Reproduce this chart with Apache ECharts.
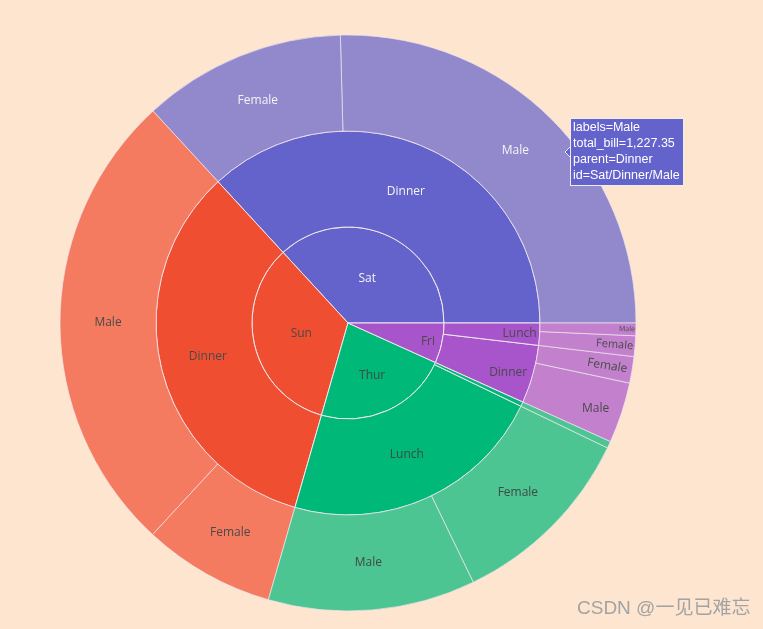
<!DOCTYPE html>
<html>
<head>
<meta charset="utf-8">
<script src="https://cdn.jsdelivr.net/npm/echarts@6/dist/echarts.min.js"></script>
<style>
html,body{margin:0;padding:0;background:#FDE5D0;}
#chart{width:763px;height:629px;}
</style>
</head>
<body>
<div id="chart"></div>
<script>
// ---- data (tips: total_bill by day / time / sex) ----
const days = ['Sat', 'Sun', 'Thur', 'Fri'];
const leafDay  = ['Sat','Sat','Sun','Sun','Thur','Thur','Thur','Fri','Fri','Fri','Fri'];
const leafTime = ['Dinner','Dinner','Dinner','Dinner','Lunch','Lunch','Dinner','Dinner','Dinner','Lunch','Lunch'];
const leafSex  = ['Male','Female','Male','Female','Male','Female','Female','Male','Female','Female','Male'];
const leafBill = [1227.35, 551.05, 1269.46, 357.70, 561.44, 516.11, 18.78, 164.41, 71.55, 55.76, 34.16];
const hoverId = 'Sat/Dinner/Male';

// ---- styles ----
const dayColors = { Sat: '#6363CB', Sun: '#EF4F30', Thur: '#00B878', Fri: '#A855CC' };
const dayLabelColor = { Sat: '#f4f4f4', Sun: '#4a4a4a', Thur: '#3f4a44', Fri: '#4a4a4a' };
// per-node label tweaks (style only)
const labelTweak = {
  'Thur': { verticalAlign: 'top', padding: [3, 0, 0, 8] },
  'Fri': { align: 'right', distance: 7 },
  'Fri/Lunch': { align: 'right', distance: 3 },
  'Fri/Dinner': { align: 'right', distance: 6 },
  'Thur/Dinner': { show: false },
  'Thur/Dinner/Female': { show: false },
  'Fri/Dinner/Male': { align: 'right', distance: 13 },
  'Fri/Dinner/Female': { align: 'right', distance: 5, rotate: 'radial' },
  'Fri/Lunch/Female': { align: 'right', distance: 2, rotate: 'radial', fontSize: 11 },
  'Fri/Lunch/Male': { align: 'right', distance: 1, rotate: 'radial', fontSize: 7 }
};

function lab(id, day) {
  return Object.assign({ color: dayLabelColor[day] }, labelTweak[id] || {});
}

// build tree
const tree = [];
days.forEach(d => {
  tree.push({ name: d, itemStyle: { color: dayColors[d] }, label: lab(d, d), children: [] });
});
for (let i = 0; i < leafBill.length; i++) {
  const d = leafDay[i], t = leafTime[i], s = leafSex[i];
  const dayNode = tree.find(n => n.name === d);
  let timeNode = dayNode.children.find(n => n.name === t);
  if (!timeNode) {
    timeNode = { name: t, itemStyle: { color: dayColors[d] }, label: lab(d + '/' + t, d), children: [] };
    dayNode.children.push(timeNode);
  }
  timeNode.children.push({
    name: s, value: leafBill[i],
    itemStyle: { color: dayColors[d], opacity: 0.7 },
    label: lab(d + '/' + t + '/' + s, d)
  });
}

// hover label text
const hi = leafDay.findIndex((d, i) => d + '/' + leafTime[i] + '/' + leafSex[i] === hoverId);
const hoverText = 'labels=' + leafSex[hi] + '\ntotal_bill=' +
  leafBill[hi].toLocaleString('en-US', { minimumFractionDigits: 2 }) +
  '\nparent=' + leafTime[hi] + '\nid=' + hoverId;

const chart = echarts.init(document.getElementById('chart'));
chart.setOption({
  backgroundColor: '#FDE5D0',
  animation: false,
  series: [{
    type: 'sunburst',
    center: [348, 323],
    radius: [0, 288],
    startAngle: 0,
    clockwise: false,
    sort: null,
    nodeClick: false,
    emphasis: { disabled: true },
    data: tree,
    itemStyle: { borderColor: '#f1e6ee', borderWidth: 1 },
    label: { rotate: 0, fontSize: 12, fontFamily: 'Open Sans', color: '#4a4a4a' },
    levels: [
      {},
      { r0: 0, r: 96 },
      { r0: 96, r: 192 },
      { r0: 192, r: 288 }
    ]
  }],
  graphic: [
    {
      type: 'polygon', z: 100,
      shape: { points: [[572, 145], [565, 152], [572, 159]] },
      style: { fill: '#6363CB', stroke: '#eeeeee', lineWidth: 1 }
    },
    {
      type: 'text', z: 101, x: 571, y: 119,
      style: {
        text: hoverText, fill: '#ffffff',
        font: '12.5px "Liberation Sans", Arial, sans-serif', lineHeight: 16,
        backgroundColor: '#6363CB', borderColor: '#eeeeee', borderWidth: 1,
        padding: [1, 4, 1, 2], width: 106
      }
    },
    {
      type: 'rect', z: 102,
      shape: { x: 571, y: 146, width: 2, height: 12 },
      style: { fill: '#6363CB' }
    },
    {
      type: 'text', left: 577, top: 599,
      style: { text: 'CSDN @一见已难忘', fill: '#a3a3a3', font: '19px "Liberation Sans", "Noto Sans CJK SC", sans-serif', textShadowColor: 'rgba(255,255,255,0.6)', textShadowOffsetX: 1, textShadowOffsetY: 1, textShadowBlur: 0 }
    }
  ]
});
</script>
</body>
</html>
